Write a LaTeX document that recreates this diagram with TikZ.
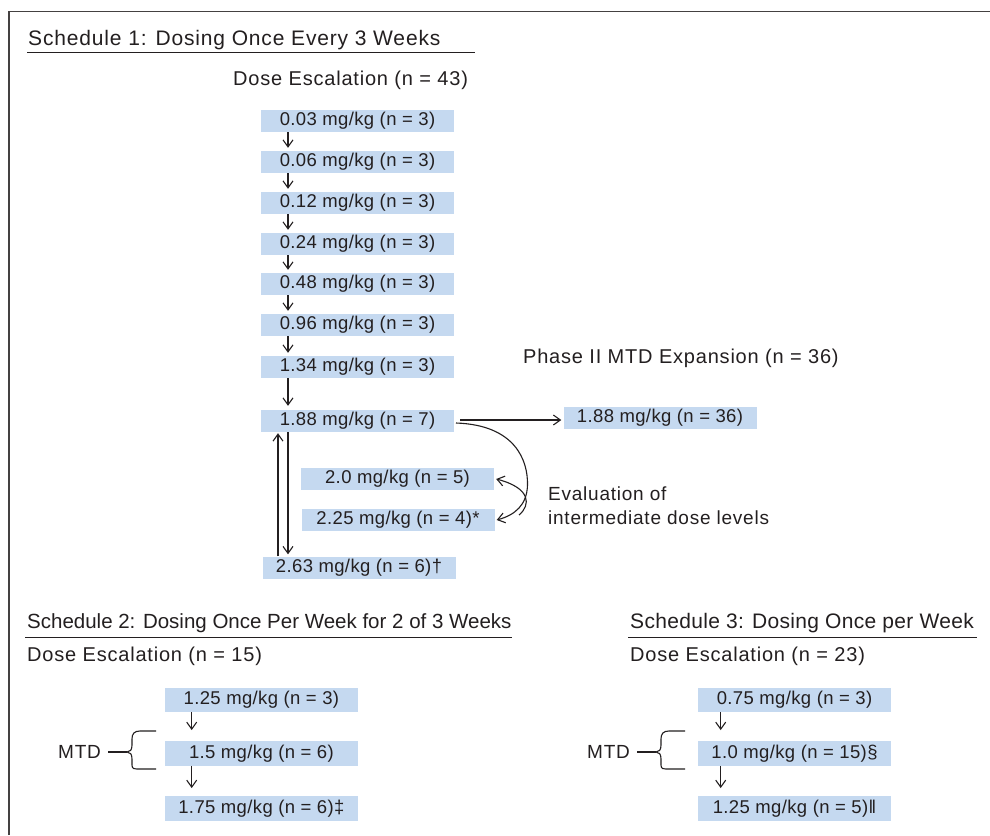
\documentclass[tikz,border=0pt]{standalone}
\usepackage{fontspec}
\setmainfont{Liberation Sans}
\newfontfamily\bxfont[LetterSpace=2]{Liberation Sans}
\newfontfamily\titAfont[LetterSpace=4]{Liberation Sans}
\newfontfamily\titCfont[LetterSpace=1.5]{Liberation Sans}
\newfontfamily\lbfont[LetterSpace=4]{Liberation Sans}
\usetikzlibrary{arrows.meta,calc}
\definecolor{ink}{HTML}{231F20}
\definecolor{boxblue}{HTML}{C5D9F0}
\tikzset{
  dose/.style={fill=boxblue, minimum width=193pt, minimum height=22pt, inner sep=0pt, text=ink, font=\bxfont\fontsize{18.5}{22}\selectfont},
  dosetall/.style={dose, minimum height=24.5pt},
  arr/.style={draw=ink, line width=1.1pt, -{Straight Barb[length=7pt,width=10pt,line width=1.1pt]}},
  lbl/.style={text=ink, inner sep=0pt, font=\lbfont\fontsize{20}{24}\selectfont},
  smlbl/.style={text=ink, inner sep=0pt, font=\lbfont\fontsize{19}{24}\selectfont},
  ttl/.style={text=ink, inner sep=0pt, font=\titAfont\fontsize{21}{25}\selectfont},
  rulestyle/.style={draw=ink, line width=1.2pt},
  bracestyle/.style={draw=ink, line width=1.1pt},
}
\begin{document}
\begin{tikzpicture}[x=1pt,y=-1pt]
\useasboundingbox (0,0) rectangle (990,835);
\fill[white] (0,0) rectangle (990,835);
% frame
\draw[draw=ink!85, line width=1.5pt] (9,835) -- (9,11.7) -- (990,11.7);

% ---------- Schedule 1 ----------
\node[ttl, anchor=base west] (t1) at (28,45) {Schedule 1: Dosing Once Every 3 Weeks};
\draw[rulestyle] (27,52.3) -- (475,52.3);
\node[lbl, anchor=base west] (d1) at (233,85) {Dose Escalation (n = 43)};

\coordinate (c1) at (288,0);
\coordinate (c1u) at (278,0);
\node[dose] (b1) at (357.5,121) {0.03 mg/kg (n = 3)};
\node[dose] (b2) at (357.5,162) {0.06 mg/kg (n = 3)};
\node[dose] (b3) at (357.5,203) {0.12 mg/kg (n = 3)};
\node[dose] (b4) at (357.5,244) {0.24 mg/kg (n = 3)};
\node[dose] (b5) at (357.5,284) {0.48 mg/kg (n = 3)};
\node[dose] (b6) at (357.5,325) {0.96 mg/kg (n = 3)};
\node[dose] (b7) at (357.5,367) {1.34 mg/kg (n = 3)};
\node[dose] (b8) at (357.5,421) {1.88 mg/kg (n = 7)};
\node[dose] (b9) at (397.5,479) {2.0 mg/kg (n = 5)};
\node[dose] (b10) at (398,520) {2.25 mg/kg (n = 4)*};
\node[dose] (b11) at (359,567.5) {2.63 mg/kg (n = 6)\dag};
\node[dose] (n36) at (660,418) {1.88 mg/kg (n = 36)};

\foreach \a/\b in {b1/b2,b2/b3,b3/b4,b4/b5,b5/b6,b6/b7}
  \draw[arr] (\a.south -| c1) -- ([yshift=3pt]\b.north -| c1);
\draw[arr] (b7.south -| c1) -- ([yshift=4pt]b8.north -| c1);
\draw[arr] (b8.south -| c1) -- ([yshift=2pt]b11.north -| c1);
\draw[arr] (b11.north -| c1u) -- ([yshift=-1pt]b8.south -| c1u);
\coordinate (hs) at ([xshift=6pt,yshift=1pt]b8.east);
\draw[arr] (hs) -- ([xshift=-2pt]n36.west |- hs);

\node[lbl, anchor=west] (ph) at (523,358) {Phase II MTD Expansion (n = 36)};

\coordinate (cs) at (456,423);
\coordinate (cm) at (519,515);
\draw[arr] (cs) .. controls (515,425) and (528,460) .. (527.5,485) .. controls (527,505) and (515,515) .. ([xshift=2pt]b10.east);
\draw[arr] (cm) .. controls (531,505) and (531,488) .. ([xshift=2pt]b9.east);

\node[smlbl, anchor=west, align=left] (ev) at (548,506) {Evaluation of\\intermediate dose levels};

% ---------- Schedule 2 ----------
\node[ttl, font=\fontsize{20.5}{25}\selectfont, anchor=base west] (t2) at (27,628) {Schedule 2: Dosing Once Per Week for 2 of 3 Weeks};
\draw[rulestyle] (25,637.7) -- (512,637.7);
\node[lbl, anchor=base west] (d2) at (27,661) {Dose Escalation (n = 15)};
\coordinate (c2) at (191.7,0);
\node[dosetall] (s2a) at (261.4,700) {1.25 mg/kg (n = 3)};
\node[dosetall] (s2b) at (261.4,753.5) {1.5 mg/kg (n = 6)};
\node[dosetall] (s2c) at (261.4,808.5) {1.75 mg/kg (n = 6)\ddag};
\draw[arr] (s2a.south -| c2) -- ([yshift=11pt]s2b.north -| c2);
\draw[arr] (s2b.south -| c2) -- ([yshift=8pt]s2c.north -| c2);
\node[smlbl, anchor=west] (m2) at (58,752) {MTD};
\coordinate (m2p) at (127,752);
\coordinate (m2l) at (108,752);
\draw[bracestyle] (m2l) -- (m2p);
\draw[bracestyle] (156,731) -- (140,731) .. controls (134,731) and (132,734) .. (132,739) -- (132,745) .. controls (132,750) and (130,752) .. (m2p) .. controls (130,752) and (132,754) .. (132,759) -- (132,765) .. controls (132,769) and (134,769) .. (140,769) -- (156,769);

% ---------- Schedule 3 ----------
\node[ttl, font=\titCfont\fontsize{21}{25}\selectfont, anchor=base west] (t3) at (630,628) {Schedule 3: Dosing Once per Week};
\draw[rulestyle] (628,637.7) -- (977,637.7);
\node[lbl, anchor=base west] (d3) at (630,661) {Dose Escalation (n = 23)};
\coordinate (c3) at (720.7,0);
\node[dosetall] (s3a) at (794.5,700) {0.75 mg/kg (n = 3)};
\node[dosetall] (s3b) at (794.5,753.5) {1.0 mg/kg (n = 15)\S};
\node[dosetall] (s3c) at (794.5,808.5) {1.25 mg/kg (n = 5)‖};
\draw[arr] (s3a.south -| c3) -- ([yshift=11pt]s3b.north -| c3);
\draw[arr] (s3b.south -| c3) -- ([yshift=8pt]s3c.north -| c3);
\node[smlbl, anchor=west] (m3) at (587,752) {MTD};
\coordinate (m3p) at (656,752);
\coordinate (m3l) at (637,752);
\draw[bracestyle] (m3l) -- (m3p);
\draw[bracestyle] (685,731) -- (669,731) .. controls (663,731) and (661,734) .. (661,739) -- (661,745) .. controls (661,750) and (659,752) .. (m3p) .. controls (659,752) and (661,754) .. (661,759) -- (661,765) .. controls (661,769) and (663,769) .. (669,769) -- (685,769);
\end{tikzpicture}
\end{document}
